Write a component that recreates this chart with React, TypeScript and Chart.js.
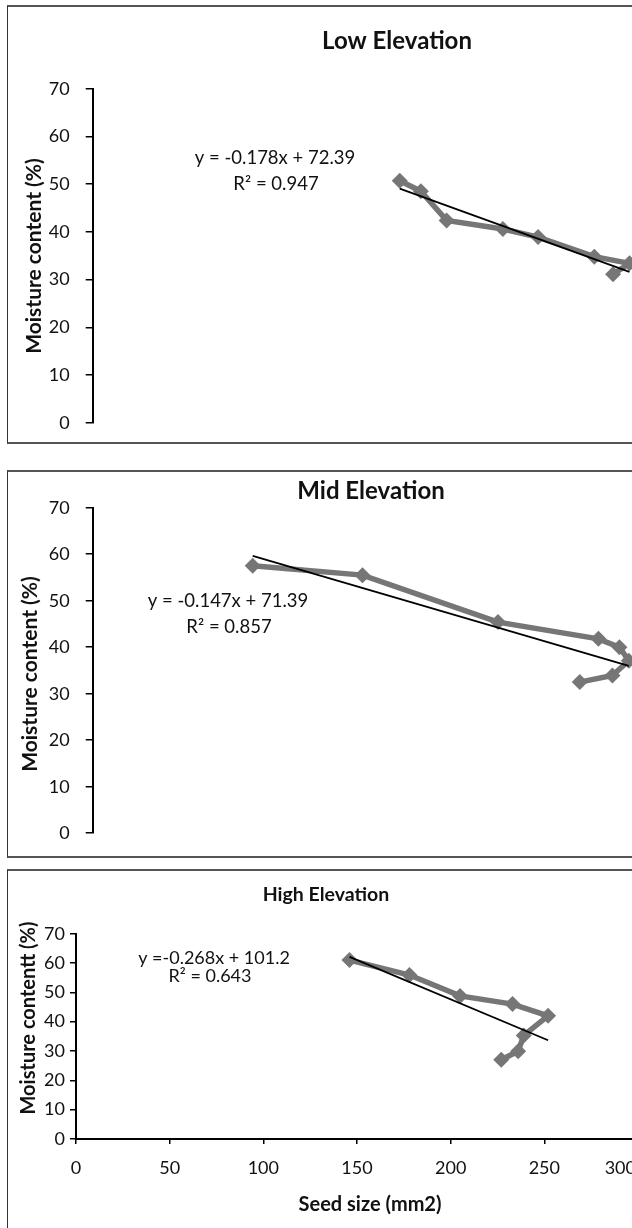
import React, { useEffect, useRef } from 'react';
import { Chart, registerables } from 'chart.js';

Chart.register(...registerables);

const FONT = 'Lato, "Open Sans", "DejaVu Sans", sans-serif';
const MARK = '#767676';
const TEXT = '#111111';

// ---- data ----
const lowSeedSize = [131, 140, 151, 175, 190, 214, 229, 222];
const lowMoisture = [50.7, 48.5, 42.4, 40.6, 38.9, 34.8, 33.4, 31.1];

const midSeedSize = [80, 127, 185, 228, 237, 241, 234, 220];
const midMoisture = [57.5, 55.5, 45.4, 41.8, 40.0, 37.1, 33.9, 32.5];

const highSeedSize = [146, 178, 205, 233, 252, 239, 236, 227];
const highMoisture = [61.0, 55.9, 48.8, 46.0, 42.0, 35.3, 29.9, 27.0];

const moistureTicks = [0, 10, 20, 30, 40, 50, 60, 70];
const seedTicks = [0, 50, 100, 150, 200, 250, 300];

const panelTitles = ['Low Elevation', 'Mid Elevation', 'High Elevation'];
const trendSlopes = [-0.178, -0.147, -0.268];
const trendIntercepts = [72.39, 71.39, 101.2];
const equationLabels = ['y = -0.178x + 72.39', 'y = -0.147x + 71.39', 'y =-0.268x + 101.2'];
const rSquaredLabels = ['R\u00B2 = 0.947', 'R\u00B2 = 0.857', 'R\u00B2 = 0.643'];
const yAxisTitles = ['Moisture content (%)', 'Moisture content (%)', 'Moisture contentt (%)'];
const xAxisTitle = 'Seed size (mm2)';

// ---- layout ----
type TextItem = { text: string; x: number; y: number; size: number; bold?: boolean; rotate?: boolean };

const overlayPlugin = {
  id: 'overlay',
  afterDraw(chart: any, _args: any, opts: any) {
    const ctx = chart.ctx;
    (opts.texts || []).forEach((t: TextItem) => {
      ctx.save();
      ctx.font = `${t.bold ? 'bold ' : ''}${t.size}px ${FONT}`;
      ctx.fillStyle = TEXT;
      ctx.textAlign = 'center';
      ctx.textBaseline = t.rotate ? 'middle' : 'alphabetic';
      ctx.translate(t.x, t.y);
      if (t.rotate) ctx.rotate(-Math.PI / 2);
      ctx.fillText(t.text, 0, 0);
      ctx.restore();
    });
    if (opts.clampTick) {
      const s = chart.scales.x;
      const { value, maxRight, size, tickLength, padding } = opts.clampTick;
      ctx.save();
      ctx.font = `${size}px ${FONT}`;
      const label = String(value);
      const w = ctx.measureText(label).width;
      let cx = s.getPixelForValue(value);
      if (cx + w / 2 > maxRight) cx = maxRight - w / 2;
      ctx.fillStyle = TEXT;
      ctx.textAlign = 'center';
      ctx.textBaseline = 'middle';
      ctx.fillText(label, cx, s.top + tickLength + padding + (size * 1.2) / 2);
      ctx.restore();
    }
  },
};

const TICK_SIZE = 18;

const panels = [
  {
    seed: lowSeedSize, moist: lowMoisture, i: 0,
    box: { top: 5, height: 439 },
    canvas: { top: 0, width: 820, height: 450 },
    pad: { left: 0, top: 88.7, right: 24.1, bottom: 27.3 },
    yWidth: 92.7, xMin: 0, xMax: 300, showX: false,
    yTick: { len: 7, pad: 16, size: TICK_SIZE },
    texts: [
      { text: panelTitles[0], x: 397, y: 48.5, size: 24, bold: true },
      { text: equationLabels[0], x: 275, y: 163.5, size: 18.5 },
      { text: rSquaredLabels[0], x: 276, y: 189.5, size: 18.5 },
      { text: yAxisTitles[0], x: 34, y: 256, size: 21, bold: true, rotate: true },
    ],
  },
  {
    seed: midSeedSize, moist: midMoisture, i: 1,
    box: { top: 470, height: 388 },
    canvas: { top: 460, width: 800, height: 400 },
    pad: { left: 0, top: 47.7, right: 33.4, bottom: 21.7 },
    yWidth: 92.7, xMin: 11.5, xMax: 300, showX: false,
    yTick: { len: 7, pad: 16, size: TICK_SIZE },
    texts: [
      { text: panelTitles[1], x: 371, y: 38.5, size: 24, bold: true },
      { text: equationLabels[1], x: 228, y: 147, size: 18.5 },
      { text: rSquaredLabels[1], x: 229, y: 173, size: 18.5 },
      { text: yAxisTitles[1], x: 30.5, y: 214, size: 21, bold: true, rotate: true },
    ],
  },
  {
    seed: highSeedSize, moist: highMoisture, i: 2,
    box: { top: 869, height: 400 },
    canvas: { top: 872, width: 700, height: 356 },
    pad: { left: 0, top: 61.7, right: 62, bottom: 49 },
    yWidth: 76, xMin: 0, xMax: 300, showX: true,
    yTick: { len: 6, pad: 5, size: TICK_SIZE },
    texts: [
      { text: panelTitles[2], x: 326, y: 29, size: 19.5, bold: true },
      { text: equationLabels[2], x: 214, y: 91.5, size: 18 },
      { text: rSquaredLabels[2], x: 210, y: 110, size: 18 },
      { text: yAxisTitles[2], x: 29, y: 146, size: 20, bold: true, rotate: true },
      { text: xAxisTitle, x: 370, y: 339, size: 20, bold: true },
    ],
  },
];

function Panel({ p }: { p: any }) {
  const ref = useRef<HTMLCanvasElement>(null);
  useEffect(() => {
    if (!ref.current) return;
    const pts = p.seed.map((x: number, k: number) => ({ x, y: p.moist[k] }));
    const xs = p.seed as number[];
    const lo = Math.min(...xs);
    const hi = Math.max(...xs);
    const m = trendSlopes[p.i];
    const b = trendIntercepts[p.i];
    const trend = [{ x: lo, y: m * lo + b }, { x: hi, y: m * hi + b }];
    const xTickPad = 13;
    const xTickLen = 5;
    const chart = new Chart(ref.current, {
      type: 'scatter',
      data: {
        datasets: [
          {
            data: trend, showLine: true, borderColor: '#000', borderWidth: 1.8,
            pointRadius: 0, order: 0,
          } as any,
          {
            data: pts, showLine: true, borderColor: MARK, borderWidth: 5.5,
            backgroundColor: MARK, pointBackgroundColor: MARK, pointBorderColor: MARK,
            pointBorderWidth: 0, pointStyle: 'rectRot', pointRadius: 8, order: 1,
          } as any,
        ],
      },
      options: {
        responsive: false,
        animation: false,
        events: [],
        layout: { padding: p.pad },
        plugins: {
          legend: { display: false },
          tooltip: { enabled: false },
          title: { display: false },
          overlay: {
            texts: p.texts,
            clampTick: p.showX ? { value: 300, maxRight: 636, size: TICK_SIZE, tickLength: xTickLen, padding: xTickPad } : null,
          },
        } as any,
        scales: {
          x: {
            type: 'linear', min: p.xMin, max: p.xMax, display: p.showX,
            afterBuildTicks: (s: any) => { s.ticks = seedTicks.map((v) => ({ value: v })); },
            ticks: {
              font: { family: FONT, size: TICK_SIZE }, color: TEXT, padding: xTickPad,
              maxRotation: 0, autoSkip: false,
              callback: (v: any) => (v === 300 ? '' : String(v)),
            },
            grid: { drawOnChartArea: false, tickLength: xTickLen, color: '#000', lineWidth: 1.5 },
            border: { display: true, color: '#000', width: 2 },
            afterFit: (s: any) => { s.height = p.showX ? 40 : 0; },
          },
          y: {
            type: 'linear', min: 0, max: 70,
            afterBuildTicks: (s: any) => { s.ticks = moistureTicks.map((v) => ({ value: v })); },
            ticks: { font: { family: FONT, size: p.yTick.size }, color: TEXT, padding: p.yTick.pad },
            grid: { drawOnChartArea: false, tickLength: p.yTick.len, color: '#000', lineWidth: 1.5 },
            border: { display: true, color: '#000', width: 2 },
            afterFit: (s: any) => { s.width = p.yWidth; },
          },
        },
      } as any,
      plugins: [overlayPlugin as any],
    });
    return () => chart.destroy();
  }, []);
  return (
    <canvas
      ref={ref}
      width={p.canvas.width}
      height={p.canvas.height}
      style={{ position: 'absolute', left: 0, top: p.canvas.top, width: p.canvas.width, height: p.canvas.height }}
    />
  );
}

export default function App() {
  return (
    <div style={{ position: 'fixed', left: 0, top: 0, width: 632, height: 1228, overflow: 'hidden', background: '#fff' }}>
      {panels.map((p, k) => (
        <div
          key={'b' + k}
          style={{
            position: 'absolute', left: 7, top: p.box.top, width: 760, height: p.box.height,
            boxSizing: 'border-box', borderLeft: '1px solid #333', borderTop: '2px solid #555',
            borderBottom: '2px solid #555',
          }}
        />
      ))}
      {panels.map((p, k) => (
        <Panel key={'c' + k} p={p} />
      ))}
    </div>
  );
}
